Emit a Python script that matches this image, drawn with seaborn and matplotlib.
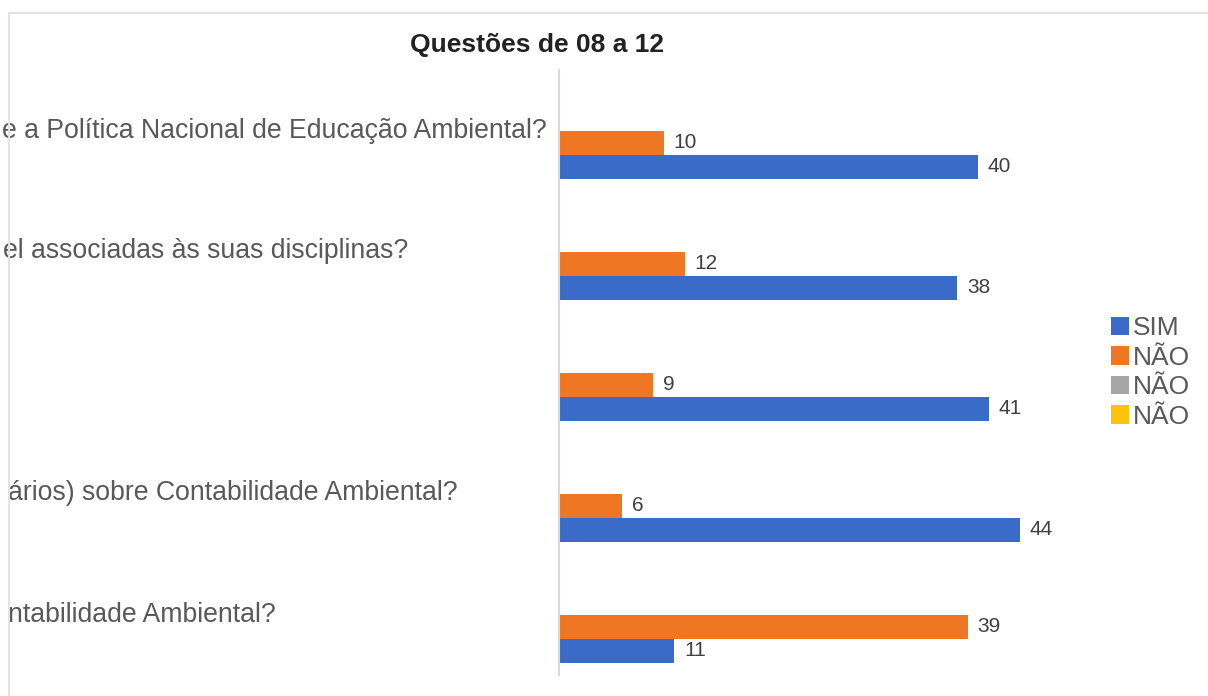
"""
plot.py - Questões de 08 a 12 (barras horizontais SIM / NÃO).
Saves out.png
"""
import matplotlib
matplotlib.use("Agg")  # headless
import matplotlib.pyplot as plt
import matplotlib.transforms as mtransforms
from matplotlib.patches import Patch, Rectangle
import pandas as pd
import seaborn as sns

# ---------- data ----------
questoes = ["Q08", "Q09", "Q10", "Q11", "Q12"]
# only the tail of each question is visible in the reference
rotulos = [
    "e a Política Nacional de Educação Ambiental?",
    "el associadas às suas disciplinas?",
    "",
    "ários) sobre Contabilidade Ambiental?",
    "ntabilidade Ambiental?",
]
sim = [40, 38, 41, 44, 11]
nao = [10, 12, 9, 6, 39]
nao_cinza = [0, 0, 0, 0, 0]
nao_amarelo = [0, 0, 0, 0, 0]
series_nomes = ["SIM", "NÃO", "NÃO", "NÃO"]
cores = ["#3a6bc8", "#ef7622", "#a5a5a5", "#fcc30a"]

# where the visible text of each label starts (pixels from the left edge)
rotulo_ini_px = [2, 3, 3, 8, 8]

W, H = 1208, 696

sns.set_style("white")
plt.rcParams["font.family"] = ["Liberation Sans", "DejaVu Sans"]

# long-form table, one key per series (labels repeat, keys must not)
chaves = ["s0", "s1", "s2", "s3"]
valores = [sim, nao, nao_cinza, nao_amarelo]
df = pd.DataFrame(
    [(q, k, v[i]) for k, v in zip(chaves, valores) for i, q in enumerate(questoes)],
    columns=["questao", "serie", "valor"],
)
paleta = dict(zip(chaves, cores))

fig = plt.figure(figsize=(W / 100, H / 100), dpi=100)
ax = fig.add_axes([559 / W, 21 / H, 524 / W, 605 / H])

# SIM at the bottom of each group, like the spreadsheet chart
ordem = chaves[::-1]
sns.barplot(data=df, x="valor", y="questao", hue="serie", hue_order=ordem,
            palette=paleta, orient="h", width=0.8, linewidth=0,
            saturation=1, legend=False, ax=ax)

ax.set_xlim(0, 50)
ax.set_xlabel(""); ax.set_ylabel("")
ax.set_xticks([]); ax.set_yticks([])
for lado in ["top", "right", "bottom"]:
    ax.spines[lado].set_visible(False)
ax.spines["left"].set_color("#d9d9d9")
ax.spines["left"].set_linewidth(1.5)

# data labels (skip empty series)
por_chave = dict(zip(chaves, valores))
for cont, k in zip(ax.containers, ordem):
    vals = por_chave[k]
    if max(vals) == 0:
        continue
    ax.bar_label(cont, labels=[str(v) for v in vals], padding=7,
                 fontsize=15, color="#404040")

# category labels at the left of the chart box
trans = mtransforms.blended_transform_factory(fig.transFigure, ax.transData)
for i, txt in enumerate(rotulos):
    ax.text(rotulo_ini_px[i] / W, i, txt, transform=trans, ha="left",
            va="center", fontsize=19.2, color="#595959", clip_on=False)

# title
fig.text(537 / W, 1 - 45 / H, "Questões de 08 a 12", ha="center", va="center",
         fontsize=19, fontweight="bold", color="#222222")

# legend
handles = [Patch(facecolor=c, edgecolor="none") for c in cores]
fig.legend(handles, series_nomes, loc="upper left",
           bbox_to_anchor=(1111 / W, 1 - 316 / H), frameon=False,
           fontsize=19, labelcolor="#595959", handlelength=0.7,
           handleheight=0.7, handletextpad=0.12, labelspacing=0.21,
           borderpad=0, borderaxespad=0)

# light border of the chart box
fig.patches.append(Rectangle((9 / W, -0.1), 1.2, 1.1 - 13 / H,
                             transform=fig.transFigure, fill=False,
                             edgecolor="#e3e3e3", linewidth=1.5))

fig.savefig("out.png", dpi=100)
plt.close(fig)
